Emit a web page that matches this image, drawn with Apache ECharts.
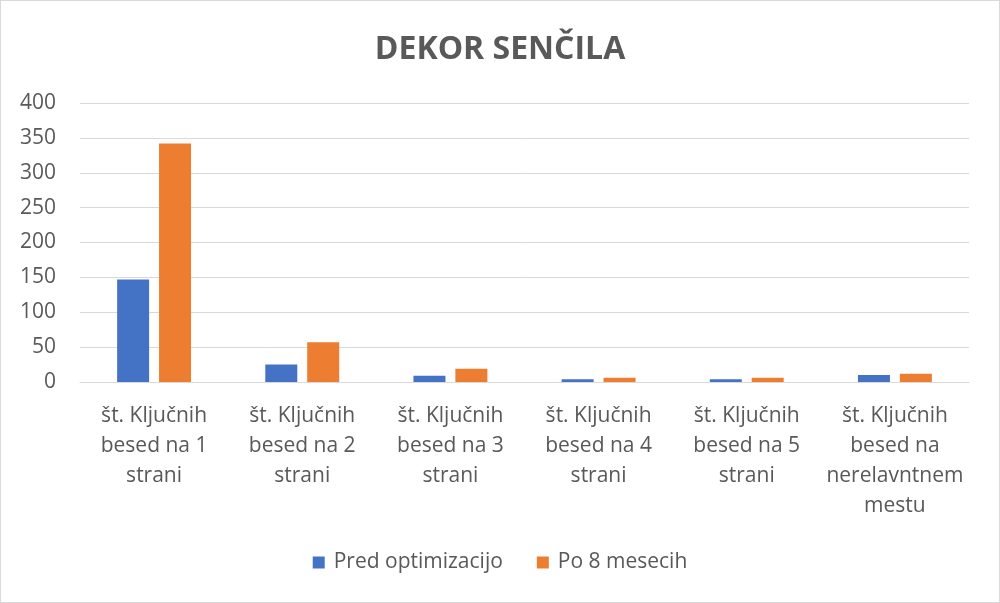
<!DOCTYPE html>
<html>
<head>
<meta charset="utf-8">
<script src="https://cdn.jsdelivr.net/npm/echarts@6/dist/echarts.min.js"></script>
<style>
  html, body { margin: 0; padding: 0; background: #fff; }
  #chart { width: 998px; height: 601px; border: 1px solid #d9d9d9; }
</style>
</head>
<body>
<div id="chart"></div>
<script>
const categories = [
  "št. Ključnih\nbesed na 1\nstrani",
  "št. Ključnih\nbesed na 2\nstrani",
  "št. Ključnih\nbesed na 3\nstrani",
  "št. Ključnih\nbesed na 4\nstrani",
  "št. Ključnih\nbesed na 5\nstrani",
  "št. Ključnih\nbesed na\nnerelavntnem\nmestu"
];
const predOptimizacijo = [147, 25, 9, 4, 4, 10];
const po8Mesecih = [342, 57, 19, 6, 6, 12];

const textColor = "#595959";
const fontFamily = "'Open Sans', 'Noto Sans', sans-serif";

let chart = echarts.init(document.getElementById("chart"));
let option = {
  backgroundColor: "#fff",
  animation: false,
  title: {
    text: "DEKOR SENČILA",
    left: "center",
    top: 28,
    textStyle: {
      color: textColor,
      fontSize: 32,
      fontWeight: "bold",
      fontFamily: fontFamily
    }
  },
  legend: {
    bottom: 24,
    left: "center",
    itemWidth: 12,
    itemHeight: 12,
    itemGap: 34,
    icon: "rect",
    textStyle: {
      color: textColor,
      fontSize: 21,
      padding: [0, 0, 0, 4],
      fontFamily: fontFamily
    },
    data: ["Pred optimizacijo", "Po 8 mesecih"]
  },
  grid: {
    left: 79,
    right: 30,
    top: 102,
    bottom: 220
  },
  xAxis: {
    type: "category",
    data: categories,
    axisTick: { show: false },
    axisLine: { lineStyle: { color: "#d9d9d9" } },
    axisLabel: {
      color: textColor,
      fontSize: 21,
      lineHeight: 30,
      margin: 19,
      interval: 0,
      fontFamily: fontFamily
    }
  },
  yAxis: {
    type: "value",
    min: 0,
    max: 400,
    interval: 50,
    axisLine: { show: false },
    axisTick: { show: false },
    splitLine: { lineStyle: { color: "#d9d9d9" } },
    axisLabel: {
      color: textColor,
      fontSize: 21,
      margin: 24,
      fontFamily: fontFamily
    }
  },
  series: [
    {
      name: "Pred optimizacijo",
      type: "bar",
      data: predOptimizacijo,
      barWidth: 32,
      barGap: "31%",
      itemStyle: { color: "#4472c4" }
    },
    {
      name: "Po 8 mesecih",
      type: "bar",
      data: po8Mesecih,
      barWidth: 32,
      itemStyle: { color: "#ed7d31" }
    }
  ]
};
chart.setOption(option);
</script>
</body>
</html>
